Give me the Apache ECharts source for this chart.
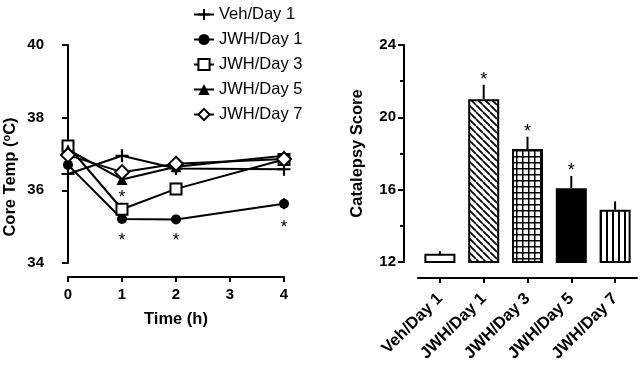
<!DOCTYPE html>
<html><head><meta charset="utf-8">
<script src="https://cdn.jsdelivr.net/npm/echarts@6/dist/echarts.min.js"></script>
<style>html,body{margin:0;padding:0;background:#fff}#c{width:641px;height:365px}</style>
</head><body><div id="c"></div>
<script>
// ---- Left panel: core temperature ----
const times = [0, 1, 2, 4];
const tempTicks = [34, 36, 38, 40];
const vehDay1 = [36.45, 36.95, 36.60, 36.58];
const jwhDay1 = [36.70, 35.21, 35.20, 35.63];
const jwhDay3 = [37.22, 35.48, 36.04, 36.85];
const jwhDay5 = [37.12, 36.30, 36.65, 36.95];
const jwhDay7 = [36.97, 36.50, 36.73, 36.86];
const vehDay1Err = [0.12, 0.12, 0.15, 0.10];
const jwhDay1Err = [0.10, 0.10, 0.08, 0.15];
const jwhDay3Err = [0.10, 0.10, 0.17, 0.10];
const jwhDay5Err = [0.10, 0.10, 0.10, 0.10];
const jwhDay7Err = [0.10, 0.10, 0.10, 0.10];
const sigTimes = [1, 1, 2, 4];
const sigTemps = [35.89, 34.71, 34.71, 35.06];
const seriesNames = ['Veh/Day 1', 'JWH/Day 1', 'JWH/Day 3', 'JWH/Day 5', 'JWH/Day 7'];

// ---- Right panel: catalepsy ----
const groups = ['Veh/Day 1', 'JWH/Day 1', 'JWH/Day 3', 'JWH/Day 5', 'JWH/Day 7'];
const scores = [12.45, 21.00, 18.25, 16.08, 14.89];
const scoreErr = [0.15, 0.80, 0.68, 0.68, 0.46];
const scoreSig = [false, true, true, true, false];
const scoreTicks = [12, 16, 20, 24];

const FONT = 'Liberation Sans, Arial, sans-serif';

function pattern(kind) {
  const c = document.createElement('canvas');
  const s = kind === 'diag' ? 7 : 6;
  c.width = s; c.height = s;
  const g = c.getContext('2d');
  g.fillStyle = '#fff'; g.fillRect(0, 0, s, s);
  g.fillStyle = '#000'; g.strokeStyle = '#000';
  if (kind === 'diag') {
    g.lineWidth = 1.7;
    g.beginPath();
    for (const x of [-s, 0, s]) { g.moveTo(x, 0); g.lineTo(x + s, s); }
    g.stroke();
  } else if (kind === 'grid') {
    g.fillRect(0, 0, s, 1.5); g.fillRect(0, 0, 1.5, s);
  } else if (kind === 'vert') {
    g.fillRect(0, 0, 2, s);
  }
  return { image: c, repeat: 'repeat' };
}
const barFills = ['#fff', pattern('diag'), pattern('grid'), '#000', pattern('vert')];

const lineData = [vehDay1, jwhDay1, jwhDay3, jwhDay5, jwhDay7];
const lineErr = [vehDay1Err, jwhDay1Err, jwhDay3Err, jwhDay5Err, jwhDay7Err];
const plus = 'path://M5,0 L7,0 L7,5 L12,5 L12,7 L7,7 L7,12 L5,12 L5,7 L0,7 L0,5 L5,5 Z';
const symbols = [
  { symbol: plus, size: 13, fill: '#000' },
  { symbol: 'circle', size: 10, fill: '#000' },
  { symbol: 'rect', size: 11, fill: '#fff' },
  { symbol: 'triangle', size: 11, fill: '#000' },
  { symbol: 'diamond', size: 14, fill: '#fff' }
];

const axisLine = { show: true, lineStyle: { color: '#000', width: 2 } };
const tickLab = { color: '#000', fontSize: 15, fontWeight: 'bold', fontFamily: FONT };
const nameStyle = { color: '#000', fontSize: 16.5, fontWeight: 'bold', fontFamily: FONT };

const series = [];
// error bars for line chart
const errData = [];
lineData.forEach((arr, k) => arr.forEach((v, i) => errData.push([times[i], v, lineErr[k][i]])));
series.push({
  type: 'custom', xAxisIndex: 0, yAxisIndex: 0, z: 1, silent: true,
  data: errData,
  renderItem: (params, api) => {
    const p1 = api.coord([api.value(0), api.value(1) - api.value(2)]);
    const p2 = api.coord([api.value(0), api.value(1) + api.value(2)]);
    return { type: 'line', shape: { x1: p1[0], y1: p1[1], x2: p2[0], y2: p2[1] }, style: { stroke: '#000', lineWidth: 2 } };
  }
});
lineData.forEach((arr, k) => {
  series.push({
    type: 'line', name: seriesNames[k], xAxisIndex: 0, yAxisIndex: 0, z: 2 + k,
    data: arr.map((v, i) => [times[i], v]),
    symbol: symbols[k].symbol, symbolSize: symbols[k].size,
    showAllSymbol: true,
    lineStyle: { color: '#000', width: 2 },
    itemStyle: { color: symbols[k].fill, borderColor: '#000', borderWidth: symbols[k].fill === '#fff' ? 2 : 0 },
    emphasis: { disabled: true }, animation: false
  });
});
// asterisks left
series.push({
  type: 'custom', xAxisIndex: 0, yAxisIndex: 0, z: 10, silent: true,
  data: sigTimes.map((t, i) => [t, sigTemps[i]]),
  renderItem: (params, api) => {
    const p = api.coord([api.value(0), api.value(1)]);
    return { type: 'text', x: p[0], y: p[1] + 4, style: { text: '*', fill: '#000', fontSize: 18, fontFamily: FONT, align: 'center', verticalAlign: 'middle' } };
  }
});
// bars
series.push({
  type: 'bar', xAxisIndex: 1, yAxisIndex: 1, barWidth: 31, z: 2,
  data: scores.map((v, i) => ({ value: v, itemStyle: { color: barFills[i], borderColor: '#000', borderWidth: 2 } })),
  emphasis: { disabled: true }, animation: false
});
series.push({
  type: 'custom', xAxisIndex: 1, yAxisIndex: 1, z: 1, silent: true,
  data: scores.map((v, i) => [i, v, scoreErr[i], scoreSig[i] ? 1 : 0]),
  renderItem: (params, api) => {
    const p1 = api.coord([api.value(0), api.value(1)]);
    const p2 = api.coord([api.value(0), api.value(1) + api.value(2)]);
    const children = [{ type: 'line', shape: { x1: p1[0], y1: p1[1], x2: p2[0], y2: p2[1] }, style: { stroke: '#000', lineWidth: 2 } }];
    if (api.value(3)) children.push({ type: 'text', x: p2[0], y: p2[1] - 9 + 4, style: { text: '*', fill: '#000', fontSize: 18, fontFamily: FONT, align: 'center', verticalAlign: 'middle' } });
    return { type: 'group', children };
  }
});

const chart = echarts.init(document.getElementById('c'), null, { renderer: 'canvas' });
chart.setOption({
  animation: false,
  backgroundColor: '#fff',
  textStyle: { fontFamily: FONT },
  legend: {
    data: seriesNames, orient: 'vertical', left: 188, top: 1,
    itemWidth: 20, itemHeight: 14, itemGap: 8,
    textStyle: { color: '#000', fontSize: 16.5, fontFamily: FONT },
    selectedMode: false
  },
  grid: [
    { left: 68, right: 357, top: 45, bottom: 102 },
    { left: 418, right: 4, top: 45, bottom: 103 }
  ],
  xAxis: [
    { type: 'value', gridIndex: 0, min: 0, max: 4, interval: 1, offset: 14,
      axisLine, axisTick: { show: true, length: 5, lineStyle: { color: '#000', width: 2 } },
      axisLabel: Object.assign({ margin: 10 }, tickLab), splitLine: { show: false },
      name: 'Time (h)', nameLocation: 'middle', nameGap: 34, nameTextStyle: nameStyle },
    { type: 'category', gridIndex: 1, data: groups, offset: 16,
      axisLine, axisTick: { show: true, alignWithLabel: true, length: 5, lineStyle: { color: '#000', width: 2 } },
      axisLabel: Object.assign({ rotate: 45, margin: 18, interval: 0 }, tickLab, { fontSize: 16.5 }) }
  ],
  yAxis: [
    { type: 'value', gridIndex: 0, min: tempTicks[0], max: tempTicks[tempTicks.length - 1], interval: 2, offset: 16,
      axisLine, axisTick: { show: true, length: 6, lineStyle: { color: '#000', width: 2 } },
      axisLabel: Object.assign({ margin: 8 }, tickLab), splitLine: { show: false },
      name: 'Core Temp ({sup|o}C)', nameLocation: 'middle', nameRotate: 90, nameGap: 32,
      nameTextStyle: Object.assign({ padding: [0, 46, 0, 0], rich: { sup: { fontSize: 11, fontWeight: 'bold', fontFamily: FONT, color: '#000', padding: [0, 0, 8, 0] } } }, nameStyle) },
    { type: 'value', gridIndex: 1, min: scoreTicks[0], max: scoreTicks[scoreTicks.length - 1], interval: 4, offset: 14,
      axisLine, axisTick: { show: true, length: 6, lineStyle: { color: '#000', width: 2 } },
      minorTick: { show: true, splitNumber: 2, length: 4, lineStyle: { color: '#000', width: 2 } },
      axisLabel: Object.assign({ margin: 8 }, tickLab), splitLine: { show: false },
      name: 'Catalepsy Score', nameLocation: 'middle', nameRotate: 90, nameGap: 38, nameTextStyle: nameStyle }
  ],
  series
});
</script></body></html>
